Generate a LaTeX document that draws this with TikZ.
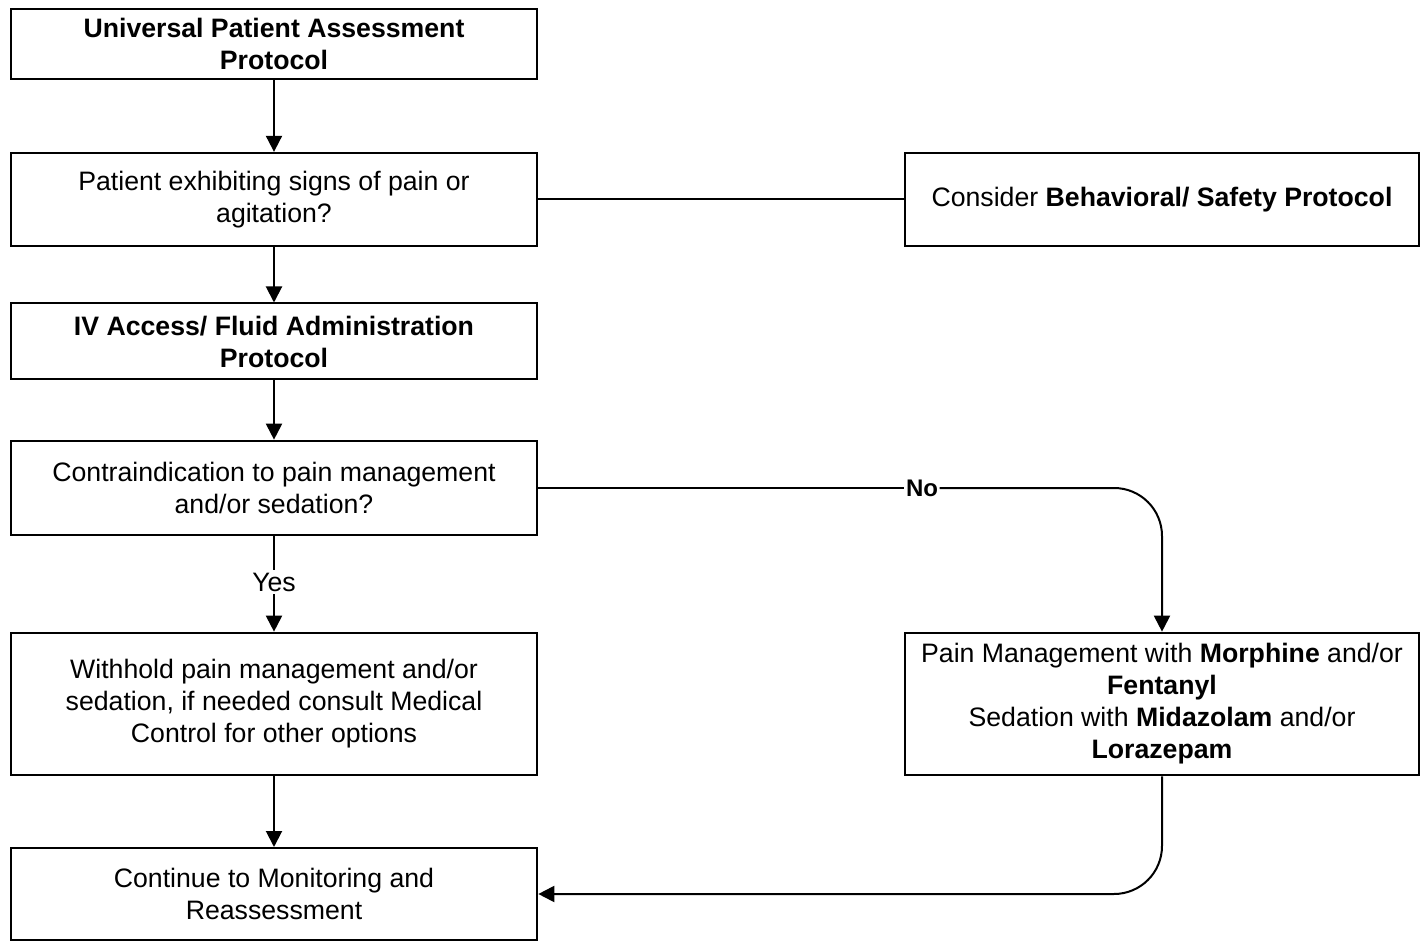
\documentclass[tikz,border=0pt]{standalone}
\usepackage{fontspec}
\setmainfont{Liberation Sans}
\usetikzlibrary{positioning,arrows.meta}

\begin{document}
\begin{tikzpicture}[x=0.75pt,y=-0.75pt,
  box/.style={draw,line width=1.5pt,minimum width=395pt,align=center,
    font=\fontsize{20}{24}\selectfont,inner sep=0pt},
  arr/.style={line width=1.5pt,-{Triangle[length=12pt,width=12pt]}},
  link/.style={line width=1.5pt},
  lbl/.style={font=\fontsize{20}{24}\selectfont,inner sep=2pt}]
\useasboundingbox (0,0) rectangle (1422,941);
% left column
\node[box,minimum height=53pt] (upa) at (274,44)
  {\textbf{Universal Patient Assessment}\\\textbf{Protocol}};
\node[box,minimum height=70pt] (signs) at (274,199.5)
  {Patient exhibiting signs of pain or\\agitation?};
\node[box,minimum height=57pt] (ivfa) at (274,341.5)
  {\textbf{IV Access/ Fluid Administration}\\\textbf{Protocol}};
\node[box,minimum height=71pt] (contra) at (274,488)
  {Contraindication to pain management\\and/or sedation?};
\node[box,minimum height=107pt] (hold) at (274,704)
  {Withhold pain management and/or\\sedation, if needed consult Medical\\Control for other options};
\node[box,minimum height=69pt] (cont) at (274,894)
  {Continue to Monitoring and\\Reassessment};
% right column
\node[box,minimum width=386pt,minimum height=70pt] (behav) at (1162,199.5)
  {Consider \textbf{Behavioral/ Safety Protocol}};
\node[box,minimum width=386pt,minimum height=107pt] (meds) at (1162,704)
  {Pain Management with \textbf{Morphine} and/or\\\textbf{Fentanyl}\\Sedation with \textbf{Midazolam} and/or\\\textbf{Lorazepam}};
% labels
\node[lbl] (yes) at (274,582) {Yes};
\node[lbl,font=\fontsize{18}{22}\selectfont\bfseries,inner sep=1pt] (no) at (922,488) {No};
% connectors
\draw[arr] (upa) -- (signs);
\draw[link] (signs) -- (behav);
\draw[arr] (signs) -- (ivfa);
\draw[arr] (ivfa) -- (contra);
\draw[link] (contra) -- (yes);
\draw[arr] (yes) -- (hold);
\draw[arr] (hold) -- (cont);
\draw[link] (contra) -- (no);
\draw[arr,rounded corners=36pt] (no) -| (meds);
\draw[arr,rounded corners=36pt] (meds) |- (cont);
\end{tikzpicture}
\end{document}
